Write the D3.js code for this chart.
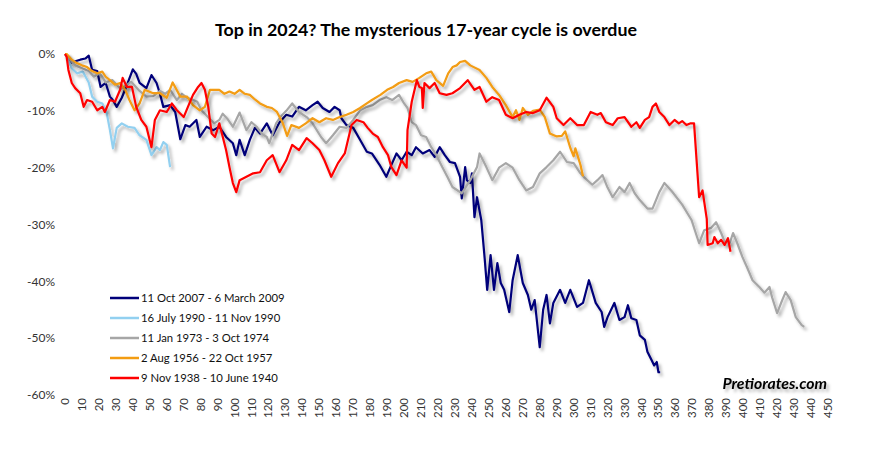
<!DOCTYPE html>
<html>
<head>
<meta charset="utf-8">
<script src="https://cdn.jsdelivr.net/npm/d3@7"></script>
<style>
  body { margin: 0; background: #fff; }
  svg { font-family: Lato, "Open Sans", sans-serif; }
</style>
</head>
<body>
<svg id="chart" width="883" height="457"></svg>
<script>
// -------------------- DATA --------------------
// [trading day, % change from the top]
const s2007 = [[0,0],[1,-0.2],[4,-1.5],[7,-1.2],[9,-1],[12,-0.8],[14,-0.3],[16,-2.8],[19,-3],[21,-5.8],[24,-5.1],[26.5,-7.5],[28,-8],[30.5,-9.3],[33.5,-7.7],[37,-5.1],[40,-2.7],[42,-3.5],[44,-5.1],[48,-6],[51,-3.7],[54,-5.1],[56,-7],[58,-9.3],[62,-9],[65,-10.2],[68,-15],[71,-12.5],[73.5,-12.8],[77.5,-11.6],[79.5,-14.6],[83.5,-12.8],[87.5,-13.4],[91,-12.8],[95,-14.6],[99,-15.7],[101,-17.8],[103,-15.1],[106,-17.8],[109,-15.1],[112,-13],[115,-14],[119,-12.2],[122.5,-14.3],[126.5,-12],[130.5,-10.7],[134,-11],[138,-9.3],[142,-9.9],[146,-9],[149,-8.4],[152,-9.5],[156,-10.2],[159,-9.3],[162,-9.9],[163,-11.3],[166,-12.5],[170,-13],[174,-15.1],[178,-17.2],[181,-17.5],[185.5,-19.5],[189.5,-21.6],[192.5,-19.5],[195.5,-17.5],[198.5,-18.7],[201.5,-17.2],[204.5,-17.8],[207,-16.4],[211,-17.5],[215,-16.9],[218,-18.1],[221,-16.4],[224,-17.8],[227,-19],[230,-19.2],[233,-21.6],[234,-25.4],[236,-19.9],[237,-22.2],[239,-22.7],[240,-21],[241.5,-28.7],[243,-25.2],[245.5,-29.2],[247.5,-35.9],[249,-41.5],[251,-35.4],[253,-41.5],[255,-36.8],[257,-40.3],[259,-41.5],[262,-45.4],[264,-39.8],[267,-35.4],[270,-40.3],[273,-42.4],[275,-45],[277,-43.3],[280,-51.6],[282,-45],[284,-42.4],[286,-47.4],[288,-43.8],[292,-41.5],[295,-43.8],[298,-41.5],[302,-44.5],[305.5,-43.8],[309,-39.8],[313,-43.8],[316.5,-45.4],[318,-48],[320,-46.3],[324,-43.8],[327,-46.8],[330,-46.3],[332,-44.2],[334,-46.5],[337,-46.8],[339,-49.5],[342,-50.3],[343.5,-52.4],[346,-53.9],[347.5,-54.8],[349,-54.2],[350,-56],[351,-56]];

const s1990 = [[0,0],[1,-0.5],[4,-2.5],[7,-3.4],[10.5,-3.1],[14,-5],[16,-7.5],[19,-8.4],[22,-8.7],[24.5,-10.2],[26.5,-13.4],[28.3,-16.6],[30.5,-13],[33.5,-12.2],[37,-12.8],[41,-13],[44,-14.3],[48,-15.1],[51,-17.8],[54,-16.4],[56,-16.9],[58,-15.5],[60,-16],[62,-19.9]];

const s1973 = [[0,0],[3,-1],[6,-2],[10,-2.5],[14,-3],[17,-4],[20.5,-3.4],[24,-5],[28,-4.6],[33,-6.2],[36,-5.5],[39,-4.9],[44,-6.5],[48,-7.5],[52,-7.4],[56,-6.5],[59,-7],[62,-6.3],[66,-8.1],[69,-7],[72,-7.7],[75,-8],[78,-8.4],[80.5,-9.9],[84,-11],[88,-12.2],[91,-11.6],[93,-10.5],[96,-11.5],[99,-12.8],[103,-10.3],[107,-13.4],[110,-12],[113,-12.8],[116,-14],[119,-14.6],[120.5,-15.7],[124.5,-12.2],[127,-11.1],[130.5,-10],[134,-8.7],[138,-10.2],[142.5,-11.1],[146,-12.2],[151,-14.6],[154,-15.7],[158,-14.3],[162,-12.8],[166,-13],[170,-11.6],[174,-9.9],[178,-9.3],[181.5,-9],[185.5,-8.1],[189.5,-7.6],[193,-8.1],[197,-7.2],[200,-8.7],[202,-9.5],[204.5,-12],[207,-12.5],[210,-14.3],[213,-14.6],[216,-16.4],[219,-17.8],[222.5,-19.9],[225.5,-21.6],[228.5,-23.4],[234,-24.5],[239,-22.2],[243,-19.9],[244.5,-17.5],[248.5,-19.9],[252,-22.2],[256,-20],[260,-19.2],[264,-20],[268,-22.2],[272,-24],[276,-23.4],[280,-21],[284,-19.9],[288,-18.7],[292,-17.2],[296,-19],[300,-19.2],[303.5,-20.8],[306.5,-21.8],[311,-23],[314,-22.2],[317,-21.3],[320,-23.5],[323,-25.2],[327,-23.4],[330,-24.3],[333,-22.7],[336,-24.5],[339,-25.7],[343.5,-27.2],[346.5,-27.2],[350.5,-24.3],[353.5,-22.7],[358,-24.2],[364,-26.5],[369.5,-29.2],[372,-31.5],[374,-33.3],[377,-31],[381,-30.6],[384,-29.6],[387,-31.5],[389,-33],[392,-33.3],[394,-31.5],[396.5,-33.3],[399.5,-35.7],[402.5,-37.7],[405.5,-39.8],[409.5,-41],[412.5,-42],[415.5,-41],[417,-42.8],[420,-45.6],[423,-43.3],[425,-41.9],[428,-43.3],[431,-46.3],[434.5,-47.7],[436,-48]];

const s1956 = [[0,0],[1,0],[4,-1],[7,-1.6],[10,-2],[13,-2.3],[16,-3],[19,-3.4],[22,-3.1],[24,-4],[26.5,-4.6],[29.5,-5.4],[32.5,-5.1],[35.5,-6.3],[38,-8.1],[41,-9.9],[44,-8.7],[47,-6.3],[52,-6.9],[56,-6.9],[60,-7.7],[63.5,-5],[68,-7.5],[72,-7.5],[75.5,-9],[79.5,-9.9],[82.5,-9.3],[85.5,-6.3],[91,-6.3],[94,-7],[97,-6.6],[100,-7],[103,-6.3],[106,-7],[109,-7.2],[112,-8],[115,-8.7],[119,-9.3],[122,-9.5],[125,-10.2],[128.5,-12.2],[131,-14.4],[133.5,-12.5],[138,-13],[142,-12.2],[146,-11.3],[150,-12],[154,-11.3],[158,-11.6],[162,-11.1],[166,-10.7],[170,-10.2],[174,-9.5],[178,-8.7],[181,-8.1],[186,-7.2],[190,-6.3],[193.5,-5.8],[197,-5.1],[201.5,-4.6],[205,-4.9],[209,-4.2],[213,-3.4],[216,-3.1],[219,-4.6],[223,-5.6],[226,-3.4],[228.6,-2.3],[231,-2],[233,-1.4],[236,-1.2],[239,-2],[244.5,-2.8],[248.5,-4.2],[252,-5.8],[256,-7.2],[260,-9],[264,-11.1],[266,-9.9],[268,-11.6],[270,-9.5],[273,-10.7],[276,-10],[280,-9.8],[283,-11.1],[286,-14],[290,-14.5],[293,-14.4],[295,-13.6],[298,-16.5],[300,-18],[301,-16.6],[304,-19.5],[305.5,-21.5]];

const s1938 = [[0,0],[1,-0.5],[2,-2.8],[4,-5.1],[6,-6],[9,-6.9],[11,-9.3],[13,-8.1],[16,-8.4],[19,-9.9],[22,-9.3],[23.5,-10.2],[26.5,-8.1],[29.5,-8.4],[32.5,-6.3],[34,-4.2],[36.5,-5.8],[39.5,-5.8],[42,-9.3],[45,-11.6],[48,-12.8],[51,-16.4],[53,-11.6],[56,-9.9],[60,-10.2],[63,-8.7],[66,-9.9],[70,-11.1],[72.5,-9.3],[75.5,-7.2],[78.5,-5.8],[80.5,-5.1],[82.5,-6.3],[84.5,-9.3],[86.5,-14],[88.5,-14.6],[91,-12.2],[95,-16.9],[97,-19.9],[99,-22.7],[101,-24.3],[103,-22.2],[107,-21.6],[111,-21],[115,-20.8],[119,-18.7],[122.5,-17.8],[126.5,-20.8],[130.5,-18.7],[134,-16],[138,-16.9],[142.5,-14.8],[146,-15.7],[150,-16.9],[153,-18.7],[157,-21.6],[161,-19.2],[165,-17.5],[169,-12.5],[172,-11.6],[176,-12],[178.5,-13],[181.5,-14],[184.5,-14.6],[187.5,-16.4],[190.5,-17.8],[192.5,-19.9],[195.5,-21.3],[198.5,-18.7],[201.5,-20],[202,-13.4],[204.5,-8.4],[207.5,-4.6],[209,-5.8],[210.5,-6],[211,-9.5],[212,-5.1],[215,-6],[218,-5.1],[221,-6.9],[225,-7.2],[228.5,-6.9],[233,-6],[237.5,-4.6],[241.5,-6.3],[244.5,-5.8],[248.5,-8.4],[252,-7.6],[256,-8.1],[260,-10.7],[264,-11.3],[268,-10.7],[272,-10.2],[276,-10.4],[280,-9.9],[284,-7.7],[288,-9.3],[290,-11.3],[294,-12.5],[298,-11.3],[302,-12.5],[306,-12.5],[310,-10.2],[314,-10.7],[316,-10.4],[319,-12],[323,-12.5],[326,-11.3],[330,-11.1],[334,-12.8],[337,-12],[339,-13],[342,-11.6],[344.5,-11.1],[346.5,-9.3],[348.5,-8.7],[350.5,-10.2],[353.5,-11.1],[356.5,-12.5],[359.5,-11.6],[362,-12.2],[364,-11.8],[366.5,-12.5],[369,-12.2],[371,-12.2],[374,-25.2],[376,-24],[378.5,-29],[379,-33.6],[382,-33.3],[383,-32.2],[385,-33.3],[387,-32.7],[389,-33.6],[391,-32.4],[392.5,-34.8]];

const seriesNames = ["11 Oct 2007 - 6 March 2009", "16 July 1990 - 11 Nov 1990", "11 Jan 1973 - 3 Oct 1974", "2 Aug 1956 - 22 Oct 1957", "9 Nov 1938 - 10 June 1940"];
const seriesColors = ["#00007a", "#92d0f0", "#a6a6a6", "#f39c12", "#ff0000"];
const seriesData = [s2007, s1990, s1973, s1956, s1938];

const xTicks = d3.range(0, 451, 10);
const yTicks = [0, -10, -20, -30, -40, -50, -60];

// -------------------- SVG --------------------
const svg = d3.select("#chart");

const defs = svg.append("defs");
defs.append("filter")
  .attr("id", "shadow")
  .attr("x", "-10%").attr("y", "-10%")
  .attr("width", "130%").attr("height", "130%")
  .append("feDropShadow")
  .attr("dx", 2.5).attr("dy", 3)
  .attr("stdDeviation", 1.4)
  .attr("flood-color", "#000")
  .attr("flood-opacity", 0.3);

// -------------------- SCALES --------------------
const x = d3.scaleLinear().domain([0, 450]).range([65, 828]);
const y = d3.scaleLinear().domain([-60, 0]).range([395, 54]);

// Title
svg.append("text")
  .attr("x", 426)
  .attr("y", 36)
  .attr("text-anchor", "middle")
  .style("font-weight", "bold")
  .style("font-size", "17.8px")
  .style("fill", "#000")
  .text("Top in 2024? The mysterious 17-year cycle is overdue");

// Y labels
svg.append("g")
  .selectAll("text")
  .data(yTicks)
  .enter()
  .append("text")
  .attr("x", 55)
  .attr("y", d => y(d))
  .attr("dy", "0.35em")
  .attr("text-anchor", "end")
  .style("font-size", "12px")
  .style("fill", "#333")
  .text(d => d + "%");

// X labels (rotated)
svg.append("g")
  .selectAll("text")
  .data(xTicks)
  .enter()
  .append("text")
  .attr("transform", d => `translate(${x(d)}, 398) rotate(-90)`)
  .attr("dy", "0.35em")
  .attr("text-anchor", "end")
  .style("font-size", "11.5px")
  .style("fill", "#333")
  .text(d => d);

// -------------------- LINES --------------------
const line = d3.line()
  .x(d => x(d[0]))
  .y(d => y(d[1]));

svg.append("g")
  .selectAll("path")
  .data(seriesData)
  .enter()
  .append("path")
  .attr("d", line)
  .attr("fill", "none")
  .attr("stroke", (d, i) => seriesColors[i])
  .attr("stroke-width", 2.2)
  .attr("stroke-linejoin", "round")
  .attr("filter", "url(#shadow)");

// -------------------- LEGEND --------------------
const legend = svg.append("g")
  .selectAll("g")
  .data(seriesNames)
  .enter()
  .append("g")
  .attr("transform", (d, i) => `translate(110, ${298 + i * 20})`);

legend.append("line")
  .attr("x1", 0).attr("x2", 29)
  .attr("stroke", (d, i) => seriesColors[i])
  .attr("stroke-width", 2.5);

legend.append("text")
  .attr("x", 31)
  .attr("dy", "0.35em")
  .style("font-size", "11.3px")
  .style("fill", "#111")
  .text(d => d);

// Watermark
svg.append("text")
  .attr("x", 827)
  .attr("y", 389)
  .attr("text-anchor", "end")
  .attr("filter", "url(#shadow)")
  .style("font-weight", "bold")
  .style("font-style", "italic")
  .style("font-size", "15.8px")
  .text("Pretiorates.com");
</script>
</body>
</html>
